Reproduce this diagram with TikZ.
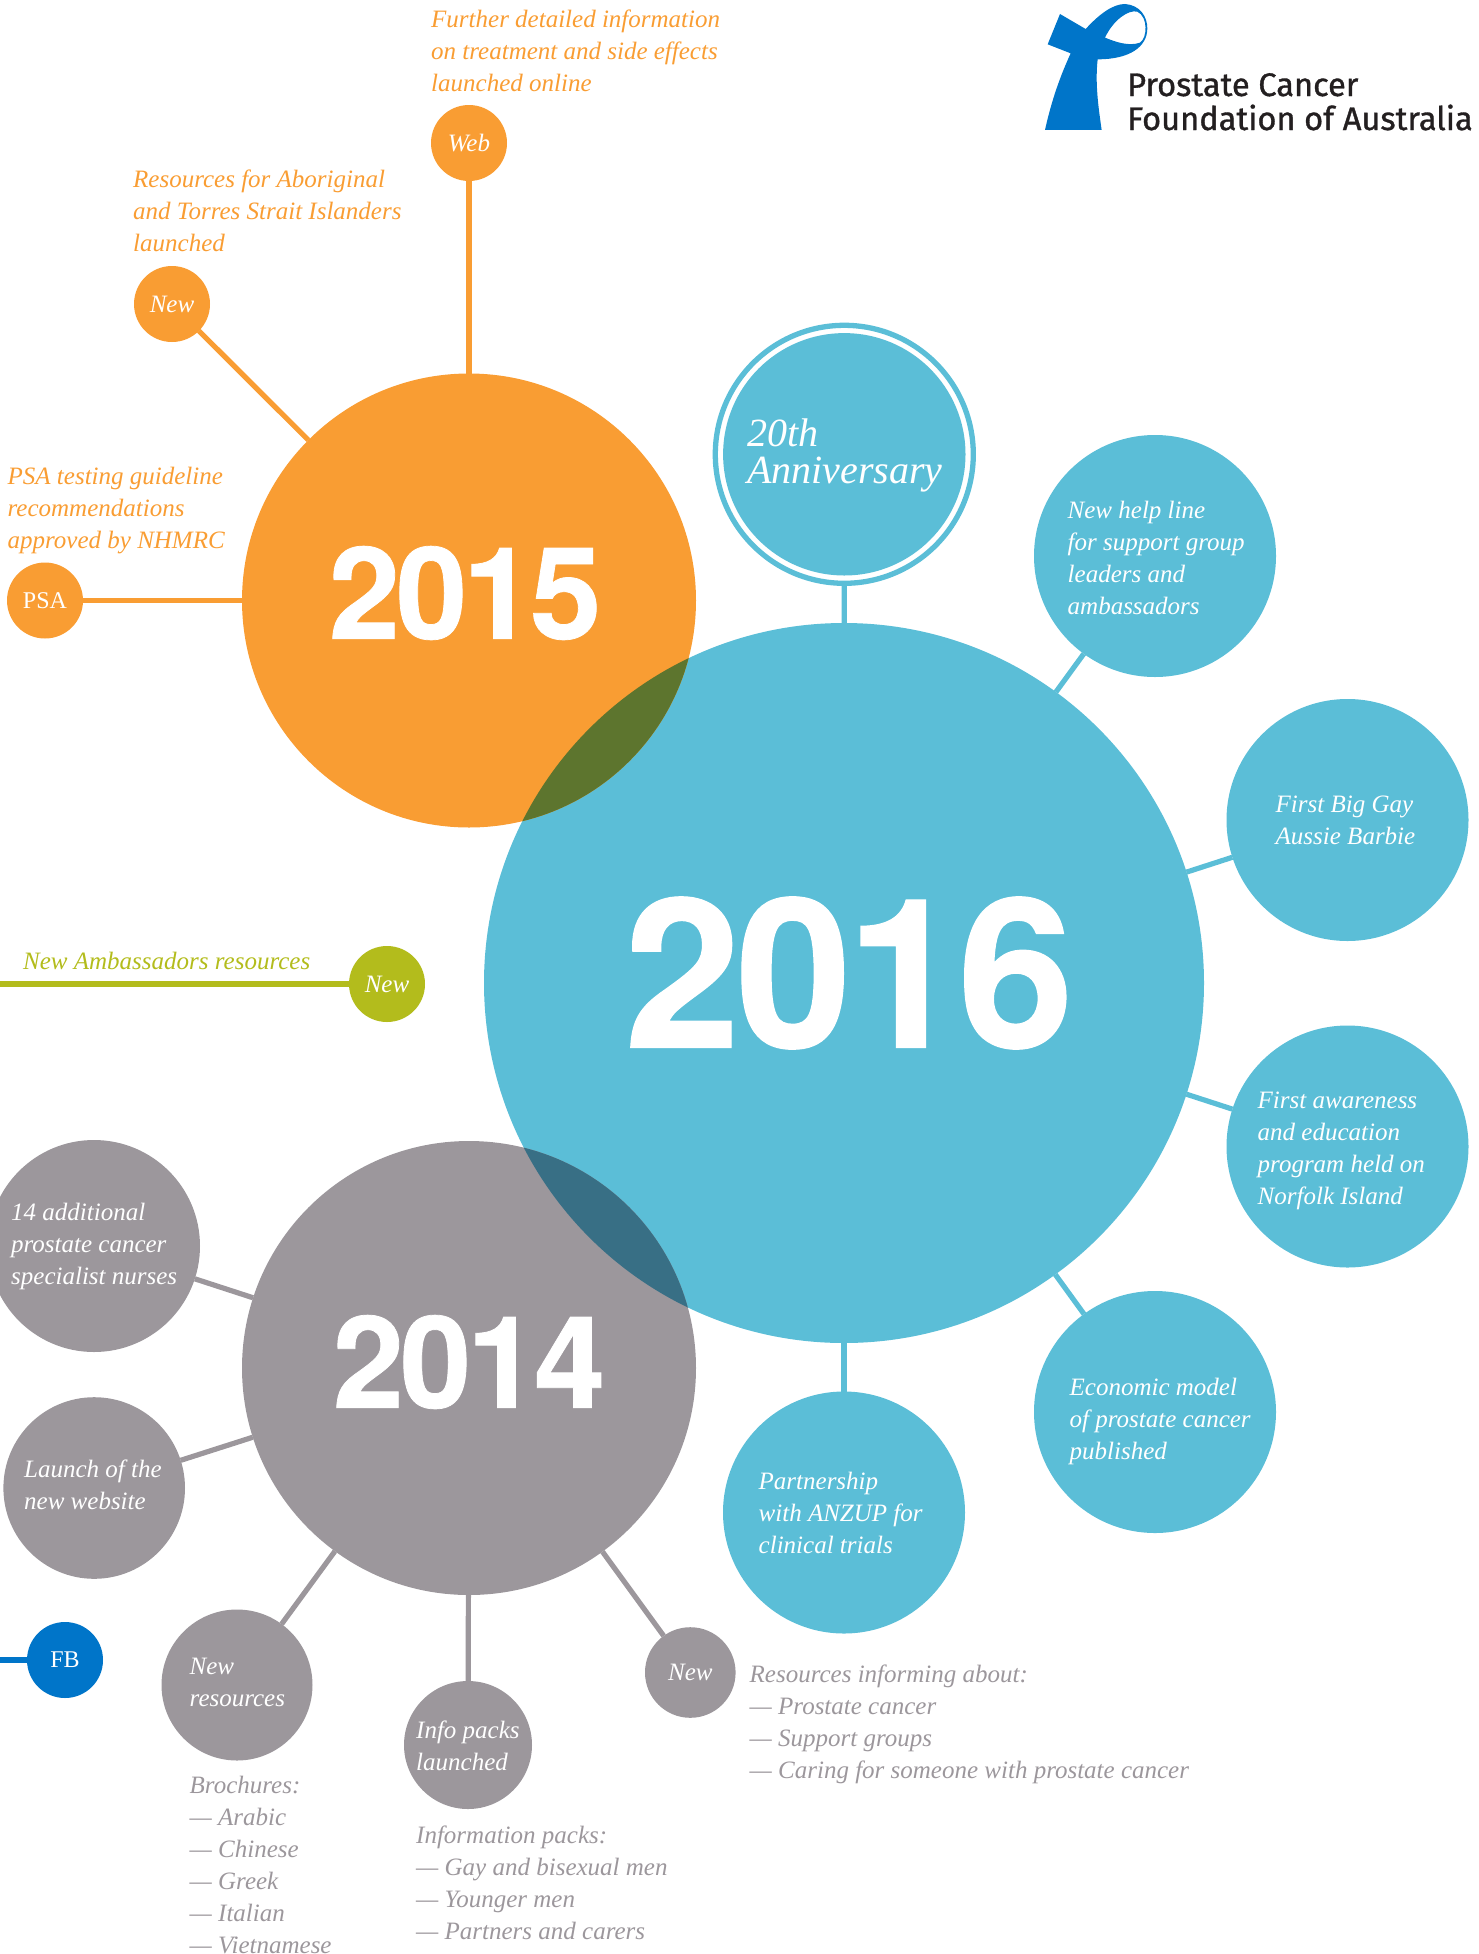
\documentclass[tikz,border=0pt]{standalone}
\usepackage{fontspec}
\setmainfont{Liberation Serif}
\newfontfamily\yearfontA[LetterSpace=-3.2,FakeBold=0.6]{TeX Gyre Heros}
\newfontfamily\yearfontB[LetterSpace=-2.2,FakeBold=0.6]{TeX Gyre Heros}
\newfontfamily\logofont[FakeBold=1]{Fira Sans}
\definecolor{cblue}{HTML}{5BBED7}
\definecolor{corange}{HTML}{F99D33}
\definecolor{cgrey}{HTML}{9C979C}
\definecolor{clime}{HTML}{B3BC1C}
\definecolor{cfb}{HTML}{0075C9}
\definecolor{colive}{HTML}{5D752E}
\definecolor{cteal}{HTML}{386F85}
\definecolor{clogo}{HTML}{231F20}
\tikzset{
  x=1pt,y=-1pt,
  disc/.style={circle,inner sep=0pt,outer sep=0pt,minimum size=#1},
  link/.style={line width=5.2pt},
  body/.style={font=\fontsize{25}{32}\selectfont\itshape,align=left,inner sep=0pt,anchor=west},
  tw/.style={body,text=white},
  tg/.style={body,text=cgrey},
  to/.style={body,text=corange},
  tl/.style={body,text=clime},
  small/.style={font=\fontsize{25}{32}\selectfont\itshape,text=white,inner sep=0pt},
  smallup/.style={font=\fontsize{24}{32}\selectfont,text=white,inner sep=0pt},
  logotext/.style={font=\logofont\fontsize{32.6}{34}\selectfont,text=clogo,inner sep=0pt,anchor=base west,align=left},
}
\begin{document}
\begin{tikzpicture}
\useasboundingbox (0,0) rectangle (1479,1954);
% connector free ends
\coordinate (edgeL) at (0,984);
\coordinate (edgeF) at (0,1660);
% main discs
\node[disc=720pt,fill=cblue] (y16) at (844,983) {};
\node[disc=454pt,fill=corange] (y15) at (469,600.5) {};
\node[disc=454pt,fill=cgrey] (y14) at (469,1368) {};
\begin{scope}
\clip (469,600.5) circle (227);
\fill[colive] (844,983) circle (360);
\end{scope}
\begin{scope}
\clip (469,1368) circle (227);
\fill[cteal] (844,983) circle (360);
\end{scope}
% satellites 2016
\node[disc=258pt,draw=cblue,line width=5.3pt,fill=white] (ann) at (844.3,454.3) {};
\node[disc=242.4pt,fill=cblue] (annin) at (844.3,454.3) {};
\node[disc=242pt,fill=cblue] (help) at (1155,556) {};
\node[disc=242pt,fill=cblue] (gay) at (1347.5,820) {};
\node[disc=242pt,fill=cblue] (nor) at (1347.5,1146.5) {};
\node[disc=242pt,fill=cblue] (eco) at (1155,1412) {};
\node[disc=242pt,fill=cblue] (anz) at (844,1512.5) {};
% satellites 2015
\node[disc=76pt,fill=corange] (web) at (469,143) {};
\node[disc=76pt,fill=corange] (new15) at (172,304) {};
\node[disc=76pt,fill=corange] (psa) at (45,600.5) {};
% lime, fb
\node[disc=76pt,fill=clime] (newl) at (387,984) {};
\node[disc=76pt,fill=cfb] (fb) at (65,1660) {};
% satellites 2014
\node[disc=212pt,fill=cgrey] (nur) at (94,1246) {};
\node[disc=181.6pt,fill=cgrey] (site) at (94.2,1488) {};
\node[disc=151pt,fill=cgrey] (res) at (237,1685) {};
\node[disc=128pt,fill=cgrey] (info) at (468,1745) {};
\node[disc=90.6pt,fill=cgrey] (new14) at (690.3,1672.5) {};
% connectors
\draw[link,cblue] (ann) -- (y16);
\draw[link,cblue] (help) -- (y16);
\draw[link,cblue] (gay) -- (y16);
\draw[link,cblue] (nor) -- (y16);
\draw[link,cblue] (eco) -- (y16);
\draw[link,cblue] (anz) -- (y16);
\draw[link,corange] (web) -- (y15);
\draw[link,corange] (new15) -- (y15);
\draw[link,corange] (psa) -- (y15);
\draw[link,clime] (newl) -- (edgeL);
\draw[link,cfb] (fb) -- (edgeF);
\draw[link,cgrey] (nur) -- (y14);
\draw[link,cgrey] (site) -- (y14);
\draw[link,cgrey] (res) -- (y14);
\draw[link,cgrey] (info) -- (y14);
\draw[link,cgrey] (new14) -- (y14);
% years
\node[font=\yearfontA\bfseries\fontsize{128}{128}\selectfont,text=white,inner sep=0pt] (l15) at (465,593) {2015};
\node[font=\yearfontA\bfseries\fontsize{128}{128}\selectfont,text=white,inner sep=0pt] (l14) at (469,1362) {2014};
\node[font=\yearfontB\bfseries\fontsize{208}{208}\selectfont,text=white,inner sep=0pt] (l16) at (849,973) {2016};
% texts
\node[to] (t1) at (431,51) {Further detailed information\\on treatment and side effects\\launched online};
\node[to] (t2) at (133,211) {Resources for Aboriginal\\and Torres Strait Islanders\\launched};
\node[to] (t3) at (7.5,510.5) {PSA testing guideline\\recommendations\\approved by NHMRC};
\node[tl] (t4) at (23,961) {New Ambassadors resources};
\node[tw,font=\fontsize{40}{37}\selectfont\itshape] (t5) at (747,455) {20th\\Anniversary};
\node[tw] (t6) at (1067.5,558) {New help line\\for support group\\leaders and\\ambassadors};
\node[tw] (t7) at (1275.5,820) {First Big Gay\\Aussie Barbie};
\node[tw] (t8) at (1257.5,1151) {First awareness\\and education\\program held on\\Norfolk Island};
\node[tw] (t9) at (1069.5,1421) {Economic model\\of prostate cancer\\published};
\node[tw] (t10) at (758.5,1512.5) {Partnership\\with ANZUP for\\clinical trials};
\node[tw] (t11) at (11,1246) {14 additional\\prostate cancer\\specialist nurses};
\node[tw] (t12) at (24,1485) {Launch of the\\new website};
\node[tw] (t13) at (189.5,1682) {New\\resources};
\node[tw] (t14) at (416,1746) {Info packs\\launched};
\node[tg] (t15) at (749.5,1724.5) {Resources informing about:\\--- Prostate cancer\\--- Support groups\\--- Caring for someone with prostate cancer};
\node[tg] (t16) at (189.5,1865) {Brochures:\\--- Arabic\\--- Chinese\\--- Greek\\--- Italian\\--- Vietnamese};
\node[tg] (t17) at (416,1883) {Information packs:\\--- Gay and bisexual men\\--- Younger men\\--- Partners and carers};
\node[small] (s1) at (469,143) {Web};
\node[small] (s2) at (172,304) {New};
\node[smallup] (s3) at (45,600.5) {PSA};
\node[small] (s4) at (387,984) {New};
\node[smallup] (s5) at (65,1660) {FB};
\node[small] (s6) at (690.3,1672.5) {New};
% logo
\begin{scope}[shift={(1000,0)},x=0.3333pt,y=-0.3333pt]
\fill[cfb,even odd rule] (180,42) -- (257,87) .. controls (300,40) and (340,12) .. (375,12)
 .. controls (420,15) and (442,50) .. (442,85) .. controls (442,140) and (390,178) .. (293,178)
 .. controls (285,250) and (295,320) .. (305,390) -- (135,390)
 .. controls (155,300) and (180,230) .. (212,160) -- (143,133) -- cycle
 (315,113) .. controls (340,60) and (385,28) .. (412,35)
 .. controls (445,50) and (442,115) .. (420,128) .. controls (385,140) and (345,125) .. (315,113) -- cycle;
\end{scope}
\node[logotext] (logo1) at (1127,96) {Prostate Cancer};
\node[logotext] (logo2) at (1127,130) {Foundation of Australia};
\end{tikzpicture}
\end{document}
